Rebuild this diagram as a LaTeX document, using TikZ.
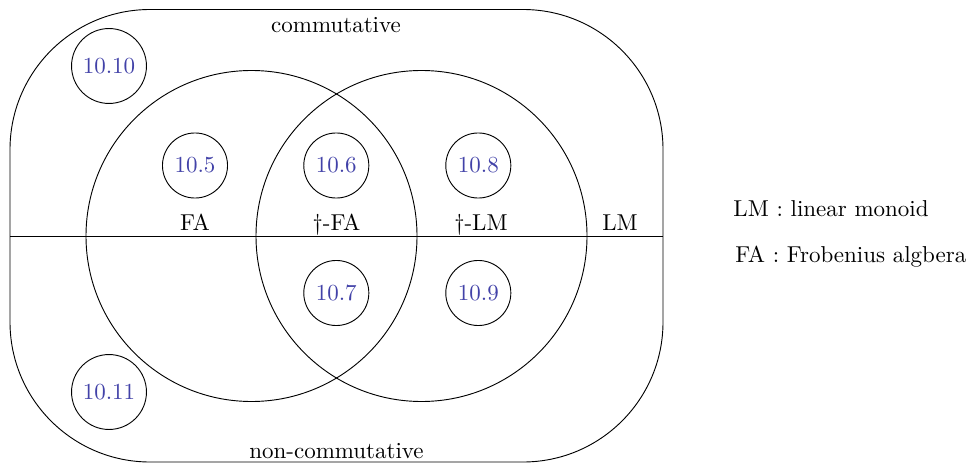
\documentclass[tikz,border=0pt]{standalone}
\definecolor{resblue}{RGB}{66,66,168}
\begin{document}
\begin{tikzpicture}[x=0.435pt,y=-0.435pt,
  res/.style={circle,draw,inner sep=0pt,minimum size=28.3pt,text=resblue},
  reswide/.style={res,minimum size=32.6pt},
  lbl/.style={anchor=base,inner sep=0pt}]
\useasboundingbox (0,0) rectangle (973,463);
% outer region
\draw[rounded corners=60.9pt] (10,9.5) rectangle (663,462);
\coordinate (wl) at (10,236);
\coordinate (wr) at (663,236);
\draw (wl) -- (wr);
% big circles
\draw (251.5,236) circle[radius=165.5];
\draw (421.5,236) circle[radius=165.5];
% small result circles
\node[reswide] (r1010) at (109,66) {10.10};
\node[res] (r105) at (195,165.5) {10.5};
\node[res] (r106) at (336.3,165.5) {10.6};
\node[res] (r108) at (478.3,165.5) {10.8};
\node[res] (r107) at (336.3,293) {10.7};
\node[res] (r109) at (478.3,293) {10.9};
\node[reswide] (r1011) at (109,392) {10.11};
% labels
\node[lbl] (comm) at (336,33) {commutative};
\node[lbl] (ncomm) at (336.5,458) {non-commutative};
\node[lbl] (fa) at (195,230) {FA};
\node[lbl] (dfa) at (336.5,230) {\textdagger-FA};
\node[lbl] (dlm) at (481,230) {\textdagger-LM};
\node[lbl] (lm) at (620,230) {LM};
% legend
\node[anchor=base west,inner sep=0pt] (leg1) at (733,216) {LM : linear monoid};
\node[anchor=base west,inner sep=0pt] (leg2) at (735,262) {FA : Frobenius algbera};
\end{tikzpicture}
\end{document}
